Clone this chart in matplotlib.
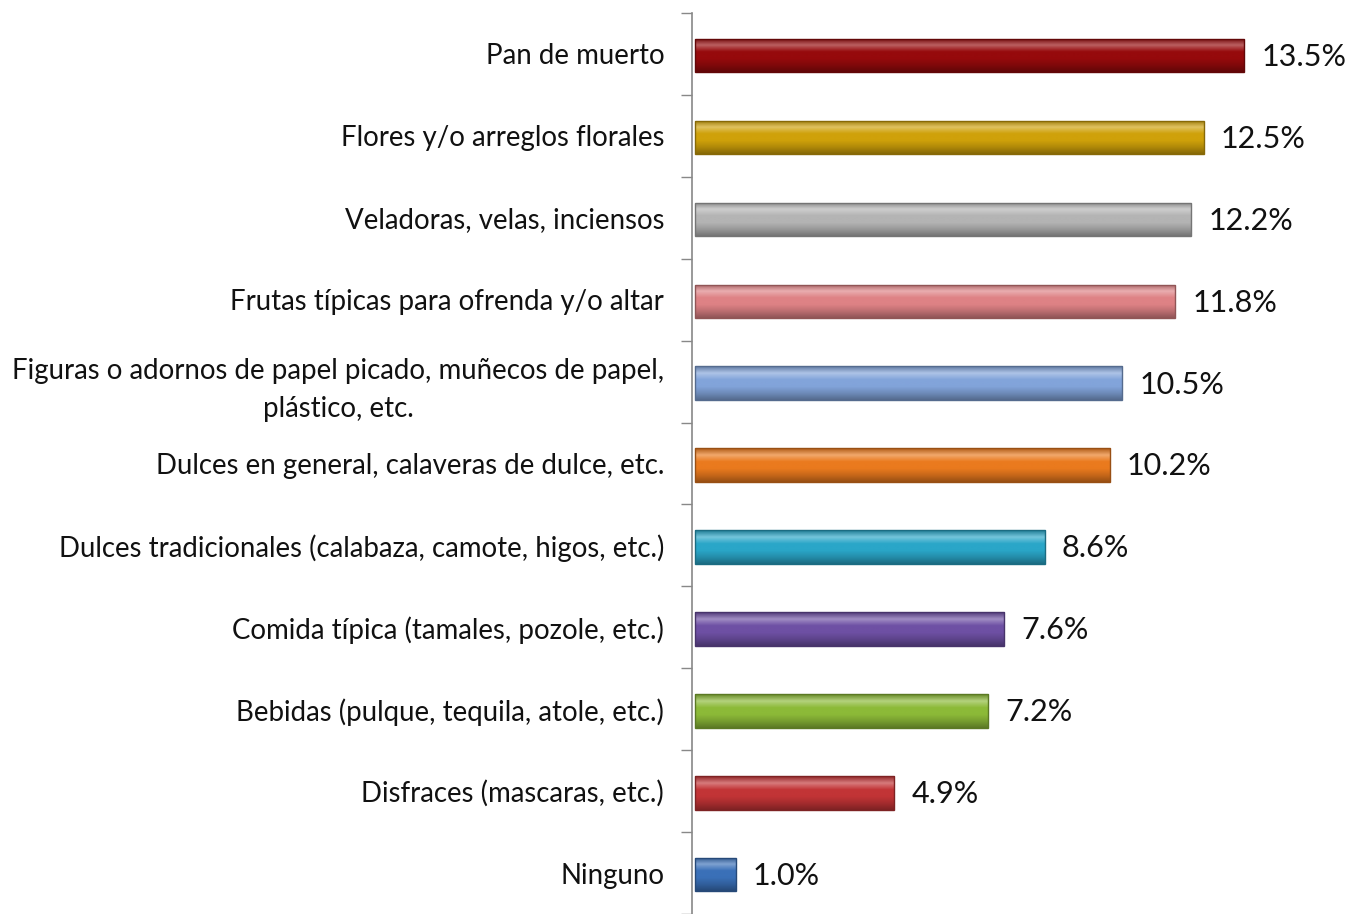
import matplotlib
matplotlib.use("Agg")
import matplotlib.pyplot as plt
import matplotlib.colors as mcolors
import numpy as np

categories = [
    "Pan de muerto",
    "Flores y/o arreglos florales",
    "Veladoras, velas, inciensos",
    "Frutas típicas para ofrenda y/o altar",
    "Figuras o adornos de papel picado, muñecos de papel,\nplástico, etc.",
    "Dulces en general, calaveras de dulce, etc.",
    "Dulces tradicionales (calabaza, camote, higos, etc.)",
    "Comida típica (tamales, pozole, etc.)",
    "Bebidas (pulque, tequila, atole, etc.)",
    "Disfraces (mascaras, etc.)",
    "Ninguno",
]
values = [13.5, 12.5, 12.2, 11.8, 10.5, 10.2, 8.6, 7.6, 7.2, 4.9, 1.0]
value_labels = ["13.5%", "12.5%", "12.2%", "11.8%", "10.5%", "10.2%", "8.6%", "7.6%", "7.2%", "4.9%", "1.0%"]
colors = ["#960A0C", "#CFA10A", "#B4B4B4", "#DE8285", "#82A4DA", "#EA7A1E",
          "#2AA6C8", "#6E50A4", "#8CBA38", "#C23436", "#3A70B8"]

plt.rcParams['font.family'] = ['Lato', 'DejaVu Sans']

fig = plt.figure(figsize=(13.49, 9.14), dpi=100)
fig.patch.set_facecolor("white")
ax = fig.add_axes([692/1349, 0.0, 1 - 692/1349, 901/914])
ax.set_facecolor("none")

y = np.arange(len(categories))
bars = ax.barh(y + 0.02, values, height=0.41, left=0.07, color=colors, linewidth=0, zorder=3)

def mix(c, other, t):
    c = np.array(mcolors.to_rgb(c)); o = np.array(mcolors.to_rgb(other))
    return tuple(c * (1 - t) + o * t)

# vertical gradient inside each bar for a bevelled look
for b, c in zip(bars, colors):
    x0, y0 = b.get_x(), b.get_y()
    w, h = b.get_width(), b.get_height()
    cmap = mcolors.LinearSegmentedColormap.from_list(
        "g", [mix(c, "black", 0.25), mix(c, "white", 0.35), c, c, mix(c, "black", 0.15), mix(c, "black", 0.35)])
    img = np.linspace(0, 1, 64).reshape(-1, 1)
    im = ax.imshow(img, cmap=cmap, aspect="auto", extent=(x0, x0 + w, y0 + h, y0),
                   origin="upper", zorder=4, interpolation="bilinear")
    im.set_clip_path(b)
    ax.add_patch(plt.Rectangle((x0, y0), w, h, fill=False,
                               edgecolor=mix(c, "black", 0.35), linewidth=1.0, zorder=5))

for yi, v, lab in zip(y, values, value_labels):
    ax.annotate(lab, (v + 0.07, yi), xytext=(17, -3), textcoords="offset pixels",
                va="center", ha="left", fontsize=22, color="#111111")

ax.set_xlim(0, (1349 - 692) / 40.7)
ax.set_ylim(len(categories) - 0.5 - 0.04, -0.5)

ax.set_yticks(y)
ax.set_yticklabels(categories, fontsize=19.9, color="#111111", multialignment="center",
                   linespacing=1.55)
ax.tick_params(axis="y", which="major", length=0, pad=20)
ax.set_yticks(np.arange(-0.5, len(categories), 1.0), minor=True)
ax.tick_params(axis="y", which="minor", length=8, width=1, color="#888888", direction="out")
ax.set_xticks([])

for s in ["top", "right", "bottom"]:
    ax.spines[s].set_visible(False)
ax.spines["left"].set_color("#888888")
ax.spines["left"].set_linewidth(1.2)

fig.savefig("out.png", dpi=100, facecolor="white")
